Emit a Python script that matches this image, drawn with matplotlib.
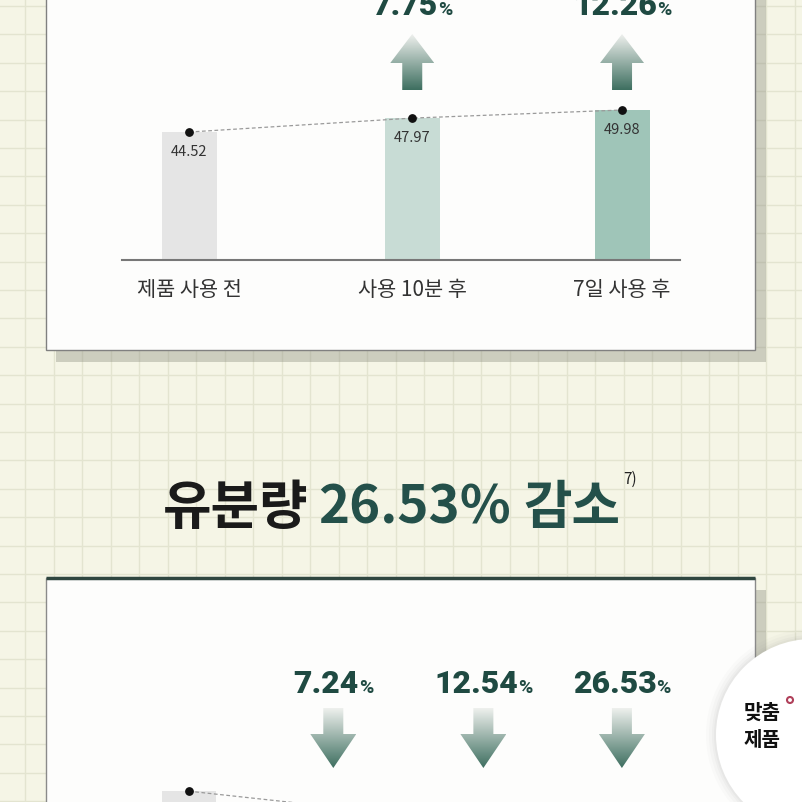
import matplotlib
matplotlib.use("Agg")
import matplotlib.pyplot as plt
import numpy as np
from matplotlib.colors import to_rgb
from matplotlib.patches import Rectangle, Polygon, Circle
from matplotlib.transforms import blended_transform_factory

plt.rcParams["font.family"] = ["Noto Sans CJK KR", "DejaVu Sans"]

# ── 데이터 ──────────────────────────────────────────────
top_labels = ["제품 사용 전", "사용 10분 후", "7일 사용 후"]
top_values = [44.52, 47.97, 49.98]
top_rise = ["7.75", "12.26"]            # 2, 3번째 막대 위 증가율

title_main = "유분량"
title_num = "26.53%"
title_tail = "감소"
title_note = "7)"

bottom_values = [34.30, 30.40, 28.10, 22.40]   # 아래쪽은 잘려 있어 추정값
bottom_drop = ["7.24", "12.54", "26.53"]

badge_lines = ["맞춤", "제품"]

# ── 스타일 ──────────────────────────────────────────────
W = H = 802
BG = "#f5f5e6"
GRID = "#e3e4d0"
PANEL = "#fdfdfc"
GREEN = "#1f4a42"
TEAL = "#24504a"
TOP_COLORS = ["#e5e5e5", "#c8dcd5", "#9fc5b8"]
BOTTOM_COLORS = ["#e5e5e5", "#d5e3de", "#bcd5cc", "#9fc5b8"]
ARROW_TOP, ARROW_BOT = "#eef0ed", "#3e6f60"
PCT_FONT = ["Roboto", "DejaVu Sans"]

fig = plt.figure(figsize=(W / 100, H / 100), dpi=100)
fig.patch.set_facecolor(BG)

# 픽셀 좌표계 배경 축 (y 아래로 증가)
bg = fig.add_axes([0, 0, 1, 1])
bg.set_xlim(0, W)
bg.set_ylim(H, 0)
bg.set_autoscale_on(False)
bg.axis("off")

for x in np.arange(25, W, 28.5):
    bg.axvline(x, color=GRID, lw=1, zorder=0.5)
for y in np.arange(6, H, 28.4):
    bg.axhline(y, color=GRID, lw=1, zorder=0.5)


def px_axes(x0, y0, x1, y1):
    return fig.add_axes([x0 / W, 1 - y1 / H, (x1 - x0) / W, (y1 - y0) / H])


def px_x(ax, v):
    return ax.transData.transform((v, ax.get_ylim()[0]))[0]


def grad_arrow(pts):
    poly = Polygon(pts, closed=True, facecolor="none", edgecolor="none", zorder=5)
    bg.add_patch(poly)
    xs = [p[0] for p in pts]
    ys = [p[1] for p in pts]
    t = np.linspace(0, 1, 80)[:, None]
    rgb = (1 - t) * np.array(to_rgb(ARROW_TOP)) + t * np.array(to_rgb(ARROW_BOT))
    im = bg.imshow(rgb[:, None, :], extent=(min(xs), max(xs), max(ys), min(ys)),
                   origin="upper", aspect="auto", interpolation="bilinear", zorder=5)
    im.set_clip_path(poly)


def up_arrow(cx):
    grad_arrow([(cx, 34), (cx + 22, 63), (cx + 10, 63), (cx + 10, 90),
                (cx - 10, 90), (cx - 10, 63), (cx - 22, 63)])


def down_arrow(cx):
    grad_arrow([(cx - 10, 708), (cx + 10, 708), (cx + 10, 734), (cx + 23, 734),
                (cx, 768), (cx - 23, 734), (cx - 10, 734)])


def pieces(cx, y, parts, gap):
    """여러 조각의 텍스트를 가운데 정렬해서 이어 붙임"""
    r = fig.canvas.get_renderer()
    objs = []
    for txt, kw in parts:
        objs.append(bg.text(0, y + kw.pop("dy", 0), txt, ha="left", va="baseline",
                            zorder=6, **kw))
    widths = [o.get_window_extent(r).width for o in objs]
    gaps = gap if isinstance(gap, list) else [gap] * (len(objs) - 1)
    total = sum(widths) + sum(gaps)
    x = cx - total / 2
    for i, o in enumerate(objs):
        o.set_x(x)
        x += widths[i] + (gaps[i] if i < len(gaps) else 0)


def pct_label(cx, y, num):
    pieces(cx, y, [(num, dict(fontsize=23, family=PCT_FONT, weight="black", color=GREEN)),
                   ("%", dict(fontsize=14, family=PCT_FONT, weight="bold", color=GREEN))], 0)


# ── 패널 ────────────────────────────────────────────────
bg.add_patch(Rectangle((56, -10), 710, 372, facecolor="#8f9184", alpha=0.4,
                       edgecolor="none", zorder=1))
bg.add_patch(Rectangle((46, -10), 709, 360, facecolor=PANEL, edgecolor="#808080",
                       lw=1, zorder=2))
bg.add_patch(Rectangle((56, 590), 710, 300, facecolor="#8f9184", alpha=0.4,
                       edgecolor="none", zorder=1))
bg.add_patch(Rectangle((46, 578), 709, 300, facecolor=PANEL, edgecolor="#8a8a8a",
                       lw=1, zorder=2))
bg.plot([46, 755], [578, 578], color="#2f4640", lw=2.5, zorder=3,
        solid_capstyle="butt")

# ── 위쪽 막대 차트 ───────────────────────────────────────
top_x = np.array([0, 1.03, 2])
ax1 = px_axes(122, 0, 680, 260)
ax1.set_xlim(-0.312, 2.268)
ax1.set_ylim(12.76, 12.76 + 260 / 4.03)
ax1.patch.set_alpha(0)
for s in ("left", "top", "right"):
    ax1.spines[s].set_visible(False)
ax1.spines["bottom"].set_color("#777777")
ax1.spines["bottom"].set_linewidth(1.5)
ax1.set_xticks([])
ax1.set_yticks([])

ax1.bar(top_x, top_values, width=0.254, color=TOP_COLORS, zorder=2)
ax1.plot(top_x, top_values, color="#9a9a9a", lw=0.9, ls=(0, (3, 2)), zorder=3)
ax1.scatter(top_x, top_values, s=28, color="#111111", zorder=4)
lab_tr = blended_transform_factory(ax1.transData, bg.transData)
for x, v, lab in zip(top_x, top_values, top_labels):
    ax1.annotate(f"{v:.2f}", (x, v), xytext=(0, -14.5), textcoords="offset points",
                 ha="center", va="center", fontsize=10.5, color="#333333")
    ax1.text(x, 290, lab, transform=lab_tr, ha="center", va="center",
             fontsize=15, color="#333333")

for x, pct in zip(top_x[1:], top_rise):
    cx = px_x(ax1, x)
    up_arrow(cx)
    pct_label(cx, 15, pct)

# ── 제목 ────────────────────────────────────────────────
pieces(400, 524, [
    (title_main, dict(fontsize=38, weight="heavy", color="#1a1a1a")),
    (title_num, dict(fontsize=38, weight="heavy", color=TEAL)),
    (title_tail, dict(fontsize=38, weight="heavy", color=TEAL)),
    (title_note, dict(fontsize=11, color="#222222", dy=-40)),
], [10, 12, 3])

# ── 아래쪽 막대 차트 (일부만 보임) ──────────────────────
bottom_x = np.array([0, 1, 2.04, 3])
ax2 = px_axes(122, 578, 680, 878)
ax2.set_xlim((122 - 189) / 144.3, (680 - 189) / 144.3)
ax2.set_ylim(12.76, 12.76 + 300 / 4.03)
ax2.patch.set_alpha(0)
ax2.axis("off")
ax2.bar(bottom_x, bottom_values, width=0.381, color=BOTTOM_COLORS, zorder=2)
ax2.plot(bottom_x, bottom_values, color="#9a9a9a", lw=0.9, ls=(0, (3, 2)), zorder=3)
ax2.scatter(bottom_x, bottom_values, s=28, color="#111111", zorder=4)

for x, pct in zip(bottom_x[1:], bottom_drop):
    cx = px_x(ax2, x)
    down_arrow(cx)
    pct_label(cx, 693, pct)

# ── 배지 ────────────────────────────────────────────────
for dr, a in [(10, 0.03), (7, 0.04), (4, 0.05), (2, 0.06)]:
    bg.add_patch(Circle((812, 735), 96 + dr, facecolor="#808080", alpha=a,
                        edgecolor="none", zorder=7))
bg.add_patch(Circle((812, 735), 96, facecolor="white", edgecolor="none", zorder=8))
bg.text(762, 712, badge_lines[0], ha="center", va="center", fontsize=14.5,
        weight="bold", color="#111111", zorder=9)
bg.text(762, 740, badge_lines[1], ha="center", va="center", fontsize=14.5,
        weight="bold", color="#111111", zorder=9)
bg.add_patch(Circle((790, 700), 3, facecolor="none", edgecolor="#b0405a", lw=1.5,
                    zorder=9))

fig.savefig("out.png", dpi=100, facecolor=BG)
